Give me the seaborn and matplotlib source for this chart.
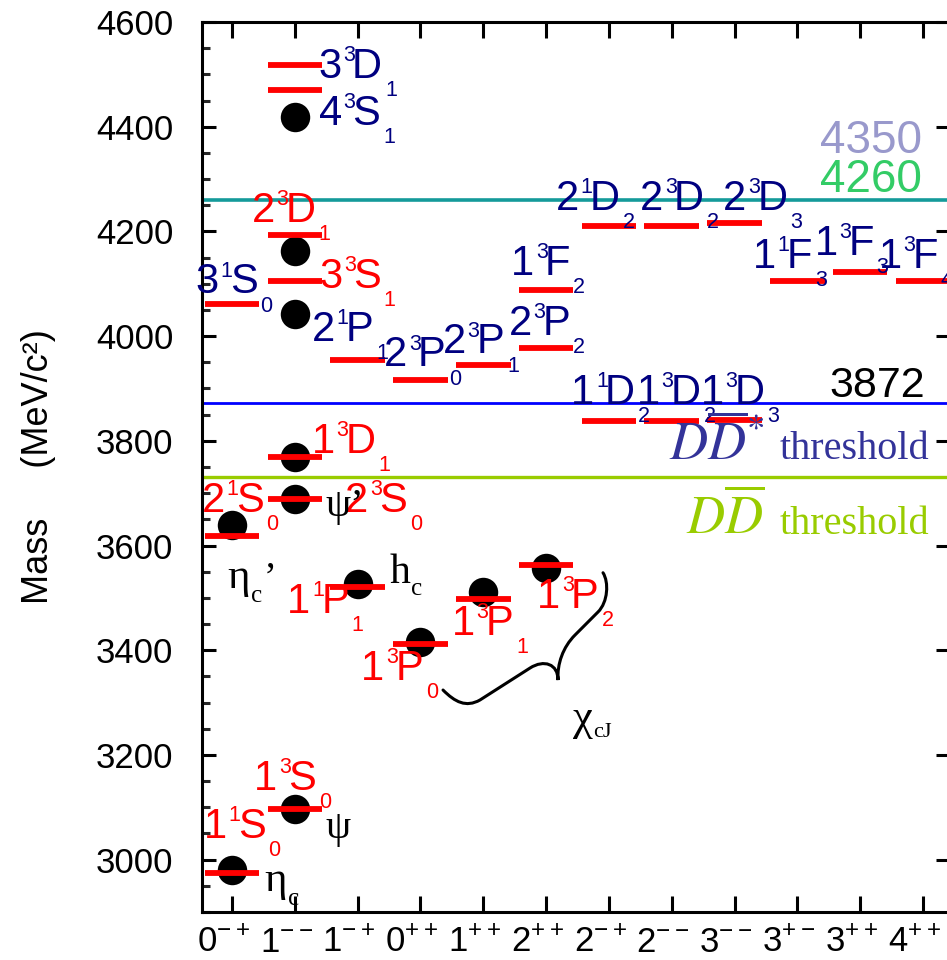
import matplotlib
matplotlib.use("Agg")
import matplotlib.pyplot as plt
import seaborn as sns
import pandas as pd
from matplotlib.path import Path
from matplotlib.patches import PathPatch
from matplotlib.ticker import MultipleLocator
from matplotlib.transforms import ScaledTranslation
from matplotlib.font_manager import FontProperties, findfont, get_font

# ---------------------------------------------------------------- data
jpc = ["0-+", "1--", "1-+", "0++", "1++", "2++", "2-+", "2--", "3--", "3+-", "3++", "4++"]

# potential-model charmonium levels: n, 2S+1, L, J (as labelled), J^PC column, mass (MeV)
level_n = ["1", "1", "2", "2", "1", "1", "1", "1", "1", "3", "2", "3", "4", "3",
           "2", "2", "2", "2", "1", "1", "1", "1", "2", "2", "2", "1", "1", "1"]
level_spin = ["1", "3", "1", "3", "3", "1", "3", "3", "3", "3", "3", "3", "3", "1",
              "1", "3", "3", "3", "3", "1", "3", "3", "1", "3", "3", "1", "3", "3"]
level_L = ["S", "S", "S", "S", "D", "P", "P", "P", "P", "S", "D", "D", "S", "S",
           "P", "P", "P", "P", "F", "D", "D", "D", "D", "D", "D", "F", "F", "F"]
level_J = ["0", "0", "0", "0", "1", "1", "0", "1", "2", "1", "1", "1", "1", "0",
           "1", "0", "1", "2", "2", "2", "2", "3", "2", "2", "3", "3", "3", "4"]
level_jpc = ["0-+", "1--", "0-+", "1--", "1--", "1-+", "0++", "1++", "2++", "1--", "1--", "1--", "1--", "0-+",
             "1-+", "0++", "1++", "2++", "2++", "2-+", "2--", "3--", "2-+", "2--", "3--", "3+-", "3++", "4++"]
level_mass = [2974, 3097, 3618, 3688, 3770, 3520, 3411, 3497, 3562, 4106, 4193, 4517, 4470, 4061,
              3954, 3916, 3944, 3978, 4089, 3838, 3838, 3840, 4211, 4211, 4217, 4106, 4123, 4106]
level_highlight = [True] * 11 + [False] * 17

# label placement relative to each level (points: right, up)
label_dx = [-18.2, -27.1, -20.2, 37.7, 14.4, -48.5, -40.3, -20.4, -4.3, 18.5, -29.5, 17.8, 17.8, -25.0,
            -31.7, -24.7, -27.6, -25.4, -23.0, -25.0, -23.0, -22.3, -36.9, -21.4, -6.7, -30.0, -30.7, -29.7]
label_dy = [25.2, 13.5, 17.5, -8.9, 2.4, -18.7, -25.7, -25.7, -30.7, -5.5, 9.1, -9.1, -25.2, 7.7,
            13.9, 9.8, 8.6, 9.1, 10.3, 12.0, 12.2, 11.5, 11.3, 11.3, 9.1, 8.9, 12.0, 8.9]

# observed states
obs_jpc = ["0-+", "1--", "0-+", "1--", "1--", "1-+", "0++", "1++", "2++", "1--", "1--", "1--"]
obs_mass = [2981, 3097, 3640, 3688, 3770, 3526, 3415, 3512, 3557, 4043, 4163, 4419]

# reference lines: 4260, X(3872), D D-bar threshold
line_mass = [4260, 3872, 3730]
line_colors = ["#149a9a", "#0000ff", "#99cc00"]
line_widths = [2.6, 2.0, 2.4]
mass_tags = [4350, 4260, 3872]
mass_tag_colors = ["#9999cc", "#33cc66", "black"]

# ---------------------------------------------------------------- style
sns.set_theme(style="white")
plt.rcParams["font.family"] = ["Liberation Sans", "DejaVu Sans"]
SANS = "Liberation Sans"
SERIF = ["Liberation Serif", "DejaVu Serif"]
RED, NAVY = "#ff0000", "#000080"
MAIN, SMALL = 30, 15.5
SUP_RISE, SUB_DROP = 12.2, 13.0


def _font(family):
    fam = family[0] if isinstance(family, list) else family
    return get_font(findfont(FontProperties(family=fam)))


def advance(text, size, family):
    font = _font(family)
    font.set_size(size, 72)
    total = 0.0
    for ch in text:
        g = font.load_char(ord(ch))
        total += g.linearHoriAdvance / 65536.0
    return total


def left_bearing(ch, size, family):
    font = _font(family)
    font.set_size(size, 72)
    return font.load_char(ord(ch)).horiBearingX / 64.0


def chained_label(ax, xy, pieces, dx, dy, color, family, zorder=6):
    """Lay out (text, size, rise, gap) pieces left to right on one baseline."""
    pen = dx - left_bearing(pieces[0][0][0], pieces[0][1], family)
    for text, size, rise, gap in pieces:
        ax.annotate(text, xy=xy, xycoords="data", xytext=(pen, dy + rise),
                    textcoords="offset points", ha="left", va="baseline",
                    fontsize=size, color=color, family=family, zorder=zorder,
                    annotation_clip=False)
        pen += advance(text, size, family) + gap


fig = plt.figure(figsize=(9.47, 9.6), dpi=100)
ax = fig.add_axes([202 / 947, 48 / 960, (950 - 202) / 947, (912 - 22) / 960])

# reference lines
for m, c, w in zip(line_mass, line_colors, line_widths):
    ax.axhline(m, color=c, lw=w, zorder=2)

# observed states
obs_df = pd.DataFrame({"col": [jpc.index(j) for j in obs_jpc], "mass": obs_mass})
sns.scatterplot(data=obs_df, x="col", y="mass", s=450, color="black",
                linewidth=0, legend=False, ax=ax, zorder=3)

# predicted levels
lev_x = [jpc.index(j) for j in level_jpc]
half = 0.435
ax.hlines(level_mass, [x - half for x in lev_x], [x + half for x in lev_x],
          colors=RED, lw=4.2, zorder=4)

for i in range(len(level_mass)):
    color = RED if level_highlight[i] else NAVY
    pieces = [(level_n[i], MAIN, 0.0, 1.2),
              (level_spin[i], SMALL, SUP_RISE, -2.0),
              (level_L[i], MAIN, 0.0, 2.0),
              (level_J[i], SMALL, -SUB_DROP, 0.0)]
    chained_label(ax, (lev_x[i], level_mass[i]), pieces,
                  label_dx[i], label_dy[i], color, SANS)

# particle names next to observed states
greek = [
    (0, [("η", 31, 0, 0.5), ("c", 18, -10, 0)], 23.8, -15.6),
    (1, [("ψ", 29, 0, 0)], 22.1, -20.9),
    (2, [("η", 31, 0, 0.5), ("c", 18, -10, 1.0), ("’", 28, 0, 0)], -2.7, -45.9),
    (3, [("ψ’", 29, 0, 0)], 22.1, -11.6),
    (5, [("h", 30, 0, 1.0), ("c", 18, -8.4, 0)], 23.0, 0.7),
]
for k, pieces, dx, dy in greek:
    chained_label(ax, (jpc.index(obs_jpc[k]), obs_mass[k]), pieces, dx, dy, "black", SERIF)

# brace grouping the chi_cJ triplet
brace_verts = [(3.359, 3324), (3.550, 3301), (3.725, 3290), (3.948, 3305),
               (4.744, 3366),
               (4.967, 3383), (5.190, 3374), (5.190, 3343),
               (5.174, 3374), (5.269, 3406), (5.460, 3429),
               (5.826, 3473),
               (5.985, 3492), (6.001, 3530), (5.906, 3548)]
C4, LT = Path.CURVE4, Path.LINETO
brace_codes = [Path.MOVETO, C4, C4, C4, LT, C4, C4, C4, C4, C4, C4, LT, C4, C4, C4]
ax.add_patch(PathPatch(Path(brace_verts, brace_codes), fill=False, lw=2.2,
                       edgecolor="black", capstyle="round", zorder=5))
chained_label(ax, (5.190, 3343), [("χ", 32, 0, 0.5), ("cJ", 16, -4.8, 0)],
              10.8, -36.0, "black", SERIF)

# mass tags on the right
tag_dy = [0.0, 6.0, 4.5]
tag_x = [10.98, 10.98, 11.03]
for v, c, dy, x in zip(mass_tags, mass_tag_colors, tag_dy, tag_x):
    ax.annotate(str(v), xy=(x, v), xytext=(0, dy), textcoords="offset points",
                ha="right", va="baseline", fontsize=33 if c != "black" else 31,
                color=c, zorder=6)

# threshold captions
for m, color, sym in [(3872, "#333399", r"$D\overline{D}^{*}$"),
                      (3730, "#99cc00", r"$D\overline{D}$")]:
    word = ax.annotate("threshold", xy=(11.1, m), xytext=(0, -40.5),
                       textcoords="offset points", ha="right", va="baseline",
                       fontsize=29, color=color, family=SERIF, zorder=6)
    ax.annotate(sym, xy=(0, m), xycoords=(word, "data"), xytext=(-11, -40.5),
                textcoords="offset points", ha="right", va="baseline",
                fontsize=38, color=color, math_fontfamily="stix", zorder=6,
                annotation_clip=False)

# axes
ax.set_xlim(-0.478, 11.43)
ax.set_ylim(2900, 4600)
ax.set_xlabel("")
ax.set_ylabel("")
ax.set_xticks(range(len(jpc)))
tick_text = [r"$\mathregular{%s^{%s}}$" % (j[0], j[1:]) for j in jpc]
ax.set_xticklabels(tick_text, fontsize=25)
ax.set_yticks(range(3000, 4601, 200))
ax.yaxis.set_minor_locator(MultipleLocator(50))
ax.tick_params(axis="x", which="major", direction="in", length=11.5, width=2.2,
               top=True, bottom=True, pad=10, colors="black")
ax.tick_params(axis="y", which="major", direction="in", length=10, width=2.2,
               left=True, right=True, labelsize=25, pad=20.5, colors="black")
ax.tick_params(axis="y", which="minor", direction="in", length=6, width=2.2,
               left=True, right=False)
for spine in ax.spines.values():
    spine.set_visible(True)
    spine.set_linewidth(2.2)
    spine.set_color("black")
shift = ScaledTranslation(-8.5 / 100, 0, fig.dpi_scale_trans)
for lab in ax.get_xticklabels():
    lab.set_transform(lab.get_transform() + shift)

ax.text(-0.219, 0.5, "Mass     (MeV/c²)", transform=ax.transAxes, rotation=90,
        ha="center", va="center", fontsize=26, color="black")

fig.savefig("out.png", dpi=100)
